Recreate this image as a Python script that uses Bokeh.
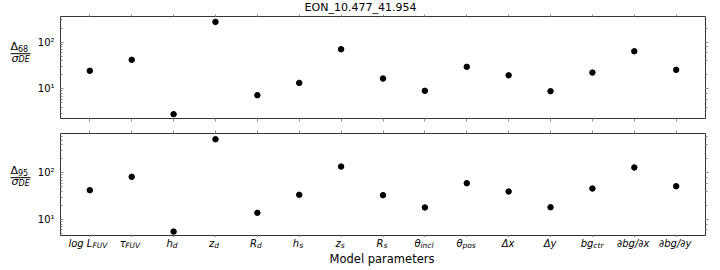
from bokeh.plotting import figure
from bokeh.models import (Range1d, FixedTicker, LogAxis, LinearAxis, ColumnDataSource,
                          CustomJSTickFormatter, Spacer)
from bokeh.layouts import column, row
from bokeh.core.properties import value
from bokeh.embed import file_html
from bokeh.resources import INLINE

# ---------------- data ----------------
title_text = "EON_10.477_41.954"
x_title = "Model parameters"
cat_main = ["log L", "τ", "h", "z", "R", "h", "z", "R", "θ", "θ", "Δx", "Δy", "bg", "∂bg/∂x", "∂bg/∂y"]
cat_sub = ["FUV", "FUV", "d", "d", "d", "s", "s", "s", "incl", "pos", "", "", "ctr", "", ""]
delta68 = [24.3, 41.8, 2.86, 272, 7.3, 13.4, 70.5, 16.6, 9.06, 29.6, 19.5, 8.9, 22.3, 63.8, 25.5]
delta95 = [42.4, 82, 5.5, 525, 13.9, 33.8, 136, 33.1, 18.1, 59.9, 39.8, 18.3, 46.1, 130, 51.6]
ylab68 = ("Δ", "68", "σ", "DE")
ylab95 = ("Δ", "95", "σ", "DE")
yrange68 = (2.31, 355)
yrange95 = (4.54, 695)

# ---------------- layout / style ----------------
FONT = "DejaVu Sans"
TOTAL_W = 720
YL_W = 34            # width of the y-label strip
PW = TOTAL_W - YL_W  # panel figure width
BL, BR = 24, 15
FH = 102
TITLE_H = 14
P1_TOP, P1_BOT = 2, 7
P2_TOP, P2_BOT = 8, 2
CAT_H = 33
TICK = "#888888"
XR = Range1d(-0.7, 14.7)

ADV = {"l": 278, "o": 612, "g": 635, " ": 318, "L": 557, "τ": 560, "h": 634, "z": 525,
       "R": 695, "θ": 602, "Δ": 684, "x": 592, "y": 592, "b": 635, "∂": 602, "/": 337,
       "F": 575, "U": 732, "V": 684, "d": 635, "s": 521, "i": 278, "n": 634, "c": 550,
       "t": 392, "r": 411, "p": 635, "σ": 634, "D": 770, "E": 632}


def text_w(s, size):
    return sum(ADV.get(c, 600) for c in s) * size / 1000.0


def bfix(size):
    # compensation for where the text box puts the alphabetic baseline
    return 0.39 * size


sup_fmt = """
const e = Math.round(Math.log10(tick));
const m = {"0":"\u2070","1":"\u00b9","2":"\u00b2","3":"\u00b3","4":"\u2074","5":"\u2075","6":"\u2076","7":"\u2077","8":"\u2078","9":"\u2079","-":"\u207b"};
return "10" + String(e).split("").map(c => m[c]).join("");
"""


def bare(width, height, x_range=None, y_range=None, **kw):
    f = figure(width=width, height=height, output_backend="svg", toolbar_location=None,
               x_range=x_range, y_range=y_range, x_axis_location=None, y_axis_location=None,
               min_border=0, title=None, **kw)
    f.grid.visible = False
    f.outline_line_color = None
    f.background_fill_color = "white"
    f.border_fill_color = "white"
    return f


def blank_x_axis(ax, out=3):
    ax.ticker = FixedTicker(ticks=list(range(len(cat_main))))
    ax.major_label_overrides = {i: "" for i in range(len(cat_main))}
    ax.major_label_text_font_size = "1px"
    ax.major_label_standoff = 0
    ax.axis_line_color = None
    ax.major_tick_line_color = TICK
    ax.major_tick_out = out
    ax.major_tick_in = 0


def make_panel(vals, yr, b_top, b_bottom):
    p = figure(width=PW, height=b_top + FH + b_bottom, x_range=XR, y_range=Range1d(*yr),
               y_axis_type="log", output_backend="svg", toolbar_location=None, title=None,
               min_border_left=BL, min_border_right=BR,
               min_border_top=b_top, min_border_bottom=b_bottom)
    p.grid.visible = False
    p.outline_line_color = "#333333"
    p.background_fill_color = "white"
    p.border_fill_color = "white"
    src = ColumnDataSource(dict(x=list(range(len(vals))), y=vals))
    p.scatter("x", "y", source=src, size=5.5, color="black")

    blank_x_axis(p.xaxis[0], out=min(3, b_bottom))
    top = LinearAxis()
    blank_x_axis(top, out=min(3, b_top))
    p.add_layout(top, "above")

    ya = p.yaxis[0]
    ya.formatter = CustomJSTickFormatter(code=sup_fmt)
    ya.major_label_text_font = FONT
    ya.major_label_text_font_size = "10px"
    ya.major_label_text_color = "black"
    ya.major_label_standoff = 6
    ya.axis_line_color = None
    ya.major_tick_line_color = TICK
    ya.minor_tick_line_color = TICK
    ya.major_tick_in = 3
    ya.major_tick_out = 0
    ya.minor_tick_in = 2
    ya.minor_tick_out = 0

    ra = LogAxis(formatter=CustomJSTickFormatter(code="return '';"))
    ra.major_label_text_font_size = "1px"
    ra.major_label_standoff = 0
    ra.axis_line_color = None
    ra.major_tick_line_color = TICK
    ra.minor_tick_line_color = TICK
    ra.major_tick_in = 0
    ra.major_tick_out = 3
    ra.minor_tick_in = 0
    ra.minor_tick_out = 2
    p.add_layout(ra, "right")
    return p


def make_ylabel(lab, height, bar_y):
    d, dsub, s, ssub = lab
    f = bare(YL_W, height, x_range=Range1d(0, YL_W), y_range=Range1d(0, height))
    x0 = 10
    big, small = 11, 8
    f.text(x=[x0], y=[bar_y + 3.5 + bfix(big)], text=[d], text_font=value(FONT),
           text_font_size=f"{big}px", text_align="left", text_baseline="alphabetic",
           text_color="black")
    f.text(x=[x0 + text_w(d, big)], y=[bar_y + 3 + bfix(small)], text=[dsub],
           text_font=value(FONT), text_font_size=f"{small}px", text_align="left",
           text_baseline="alphabetic", text_color="black")
    f.segment(x0=[x0], y0=[bar_y], x1=[x0 + 20], y1=[bar_y], line_color="black", line_width=1)
    f.text(x=[x0 + 1], y=[bar_y - 9 + bfix(big)], text=[s], text_font=value(FONT),
           text_font_size=f"{big}px", text_font_style="italic", text_align="left",
           text_baseline="alphabetic", text_color="black")
    f.text(x=[x0 + 1 + text_w(s, big)], y=[bar_y - 9.5 + bfix(small)], text=[ssub],
           text_font=value(FONT), text_font_size=f"{small}px", text_font_style="italic",
           text_align="left", text_baseline="alphabetic", text_color="black")
    return f


# title strip
TS = 11
tfig = bare(TOTAL_W, TITLE_H, x_range=Range1d(0, TOTAL_W), y_range=Range1d(0, TITLE_H))
tfig.text(x=[TOTAL_W / 2], y=[TITLE_H - 11.3 + bfix(TS)], text=[title_text],
          text_font=value(FONT), text_font_size=f"{TS}px", text_align="center",
          text_baseline="alphabetic", text_color="black")

# panels
p1 = make_panel(delta68, yrange68, P1_TOP, P1_BOT)
p2 = make_panel(delta95, yrange95, P2_TOP, P2_BOT)
h1 = P1_TOP + FH + P1_BOT
h2 = P2_TOP + FH + P2_BOT
yl1 = make_ylabel(ylab68, h1, h1 - P1_TOP - 38.5)
yl2 = make_ylabel(ylab95, h2, h2 - P2_TOP - 40.5)

# category labels + x title strip (shares the panels' x scale)
cfig = figure(width=PW, height=CAT_H, x_range=XR, y_range=Range1d(0, CAT_H),
              output_backend="svg", toolbar_location=None, x_axis_location=None,
              y_axis_location=None, min_border_left=BL, min_border_right=BR,
              min_border_top=0, min_border_bottom=0, title=None)
cfig.grid.visible = False
cfig.outline_line_color = None
MS, SS, XS = 10, 7.5, 11.5
xs, moff, sxs, soff, stext = [], [], [], [], []
for i, (m, sb) in enumerate(zip(cat_main, cat_sub)):
    wm, ws = text_w(m, MS), text_w(sb, SS)
    xs.append(i)
    moff.append(-(wm + ws) / 2)
    if sb:
        sxs.append(i)
        soff.append(-(wm + ws) / 2 + wm)
        stext.append(sb)
main_base = CAT_H - 10      # baseline of the category names
cfig.text(x="x", y="y", text="t", x_offset="o",
          source=ColumnDataSource(dict(x=xs, y=[main_base + bfix(MS)] * len(xs), t=cat_main, o=moff)),
          text_font=value(FONT), text_font_size=f"{MS}px", text_font_style="italic",
          text_align="left", text_baseline="alphabetic", text_color="black")
cfig.text(x="x", y="y", text="t", x_offset="o",
          source=ColumnDataSource(dict(x=sxs, y=[main_base - 1 + bfix(SS)] * len(sxs), t=stext, o=soff)),
          text_font=value(FONT), text_font_size=f"{SS}px", text_font_style="italic",
          text_align="left", text_baseline="alphabetic", text_color="black")
cfig.text(x=[(XR.start + XR.end) / 2], y=[7 + bfix(XS)], text=[x_title], text_font=value(FONT),
          text_font_size=f"{XS}px", text_align="center", text_baseline="alphabetic",
          text_color="black")

layout = column(
    tfig,
    row(yl1, p1, spacing=0),
    row(yl2, p2, spacing=0),
    row(Spacer(width=YL_W, height=CAT_H), cfig, spacing=0),
    spacing=0,
)
open("out.html", "w").write(file_html(layout, INLINE))
